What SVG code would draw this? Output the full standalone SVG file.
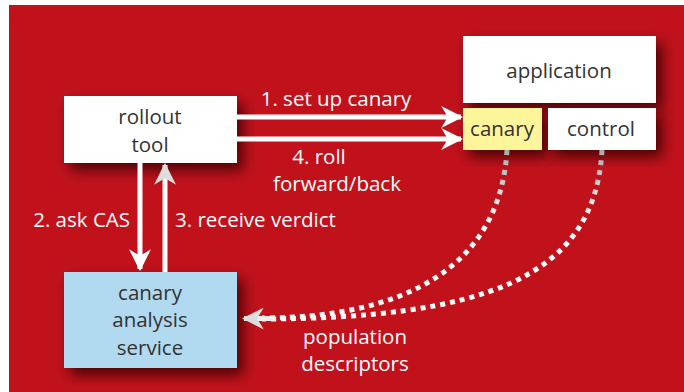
<svg xmlns="http://www.w3.org/2000/svg" width="684" height="392" viewBox="0 0 684 392">
<defs>
<style>
.t{font-family:"Open Sans","Noto Sans",sans-serif;font-size:20.5px;text-anchor:middle}
.dk{fill:#333}
.wt{fill:#fff}
.ar{stroke:#fff;stroke-width:5;fill:none}
.dot{stroke-width:5;fill:none;stroke-dasharray:5 5}
</style>
<filter id="sh" x="-20%" y="-20%" width="150%" height="160%">
<feDropShadow dx="6" dy="7" stdDeviation="7" flood-color="#300004" flood-opacity="0.85"/>
</filter>
<marker id="ah" viewBox="0 0 10 10" refX="9" refY="5" markerWidth="4.4" markerHeight="4.4" orient="auto" markerUnits="strokeWidth">
<path d="M0,0 L10,5 L0,10 L3,5 Z" fill="#fff"/>
</marker>
<marker id="ahg" viewBox="0 0 10 10" refX="9" refY="5" markerWidth="4.4" markerHeight="4.4" orient="auto" markerUnits="strokeWidth">
<path d="M0,0 L10,5 L0,10 L3,5 Z" fill="#ddd"/>
</marker>
<linearGradient id="gh" x1="237" y1="0" x2="300" y2="0" gradientUnits="userSpaceOnUse">
<stop offset="0" stop-color="#999"/><stop offset="1" stop-color="#fff"/>
</linearGradient>
<linearGradient id="gv" x1="0" y1="150" x2="0" y2="230" gradientUnits="userSpaceOnUse">
<stop offset="0" stop-color="#aaa"/><stop offset="1" stop-color="#fff"/>
</linearGradient>
</defs>
<rect x="0" y="0" width="684" height="392" fill="#fff"/>
<rect x="9" y="5" width="675" height="387" fill="#c1121c"/>

<g id="rollout-tool">
<rect x="64" y="96" width="173" height="67" fill="#fff" filter="url(#sh)"/>
<text class="t dk" x="150" y="124">rollout</text>
<text class="t dk" x="150" y="152">tool</text>
</g>
<g id="application">
<rect x="463" y="36" width="193" height="67" fill="#fff" filter="url(#sh)"/>
<text class="t dk" x="559" y="78">application</text>
</g>
<g id="canary">
<rect x="463" y="108" width="79" height="42" fill="#fdf59a" filter="url(#sh)"/>
<text class="t dk" x="502" y="136">canary</text>
</g>
<g id="control">
<rect x="548" y="108" width="108" height="42" fill="#fff" filter="url(#sh)"/>
<text class="t dk" x="601" y="136">control</text>
</g>
<g id="cas">
<rect x="64" y="272" width="173" height="96" fill="#b1d9ef" filter="url(#sh)"/>
<text class="t dk" x="150" y="300">canary</text>
<text class="t dk" x="150" y="327">analysis</text>
<text class="t dk" x="150" y="355">service</text>
</g>

<g id="connectors">
<line class="ar" x1="237" y1="117" x2="461" y2="117" stroke="url(#gh)" marker-end="url(#ah)"/>
<line class="ar" x1="237" y1="139" x2="461" y2="139" stroke="url(#gh)" marker-end="url(#ah)"/>
<line class="ar" x1="140" y1="163" x2="140" y2="269" marker-end="url(#ah)"/>
<line class="ar" x1="165" y1="272" x2="165" y2="165" stroke="#eee" marker-end="url(#ahg)"/>
<path class="dot" d="M507,150 C500,270 400,318 262,318" stroke="url(#gv)"/>
<path class="dot" d="M602,150 C595,280 480,318 262,319" stroke="url(#gv)"/>
<line x1="275" y1="318.5" x2="244" y2="318.5" stroke="#eee" stroke-width="5" marker-end="url(#ahg)"/>
</g>

<g id="labels">
<text class="t wt" x="336" y="106">1. set up canary</text>
<text class="t wt" x="319" y="164">4. roll</text>
<text class="t wt" x="337" y="191">forward/back</text>
<text class="t wt" x="130" y="227" style="text-anchor:end">2. ask CAS</text>
<text class="t wt" x="175" y="227" style="text-anchor:start">3. receive verdict</text>
<text class="t wt" x="355" y="344">population</text>
<text class="t wt" x="355" y="371">descriptors</text>
</g>
</svg>
